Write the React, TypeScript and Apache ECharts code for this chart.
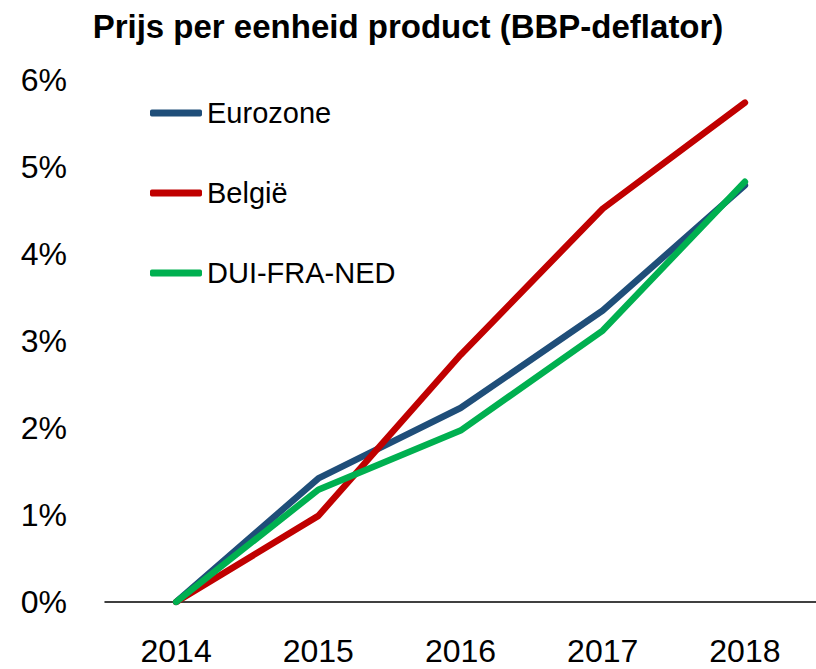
import React, { useEffect, useRef } from "react";
import * as echarts from "echarts";

const years = ["2014", "2015", "2016", "2017", "2018"];
const eurozone = [0, 1.42, 2.23, 3.35, 4.79];
const belgie = [0, 0.99, 2.84, 4.52, 5.74];
const duiFraNed = [0, 1.29, 1.97, 3.12, 4.83];
const seriesNames = ["Eurozone", "België", "DUI-FRA-NED"];
const colors = ["#1F4E79", "#C00000", "#00B050"];

const FONT = "'Liberation Sans', Arial, sans-serif";

export default function App() {
  const ref = useRef<HTMLDivElement>(null);
  useEffect(() => {
    document.body.style.margin = "0";
    if (!ref.current) return;
    const chart = echarts.init(ref.current, null, { renderer: "svg" });
    const data = [eurozone, belgie, duiFraNed];
    chart.setOption({
      animation: false,
      title: {
        text: "Prijs per eenheid product (BBP-deflator)",
        left: "center",
        top: 5,
        textStyle: { fontFamily: FONT, fontSize: 33, fontWeight: "bold", color: "#000" },
      },
      legend: {
        orient: "vertical",
        left: 150,
        top: 98,
        padding: 0,
        icon: "roundRect",
        itemWidth: 52,
        itemHeight: 7,
        itemGap: 50,
        textStyle: { fontFamily: FONT, fontSize: 29, color: "#000", lineHeight: 30 },
        data: seriesNames,
      },
      grid: { left: 105, right: 0, top: 80, bottom: 67 },
      xAxis: {
        type: "category",
        data: years,
        boundaryGap: true,
        axisLine: { lineStyle: { color: "#000", width: 1.5 } },
        axisTick: { show: false },
        axisLabel: { fontFamily: FONT, fontSize: 32, color: "#000", margin: 33 },
      },
      yAxis: {
        type: "value",
        min: 0,
        max: 6,
        interval: 1,
        axisLine: { show: false },
        axisTick: { show: false },
        splitLine: { show: false },
        axisLabel: { fontFamily: FONT, fontSize: 32, color: "#000", margin: 38, formatter: "{value}%" },
      },
      series: seriesNames.map((name, i) => ({
        name,
        type: "line",
        data: data[i],
        symbol: "none",
        color: colors[i],
        lineStyle: { width: 6.5, color: colors[i], cap: "round" },
      })),
    });
    return () => chart.dispose();
  }, []);
  return <div ref={ref} style={{ width: 816, height: 669 }} />;
}
